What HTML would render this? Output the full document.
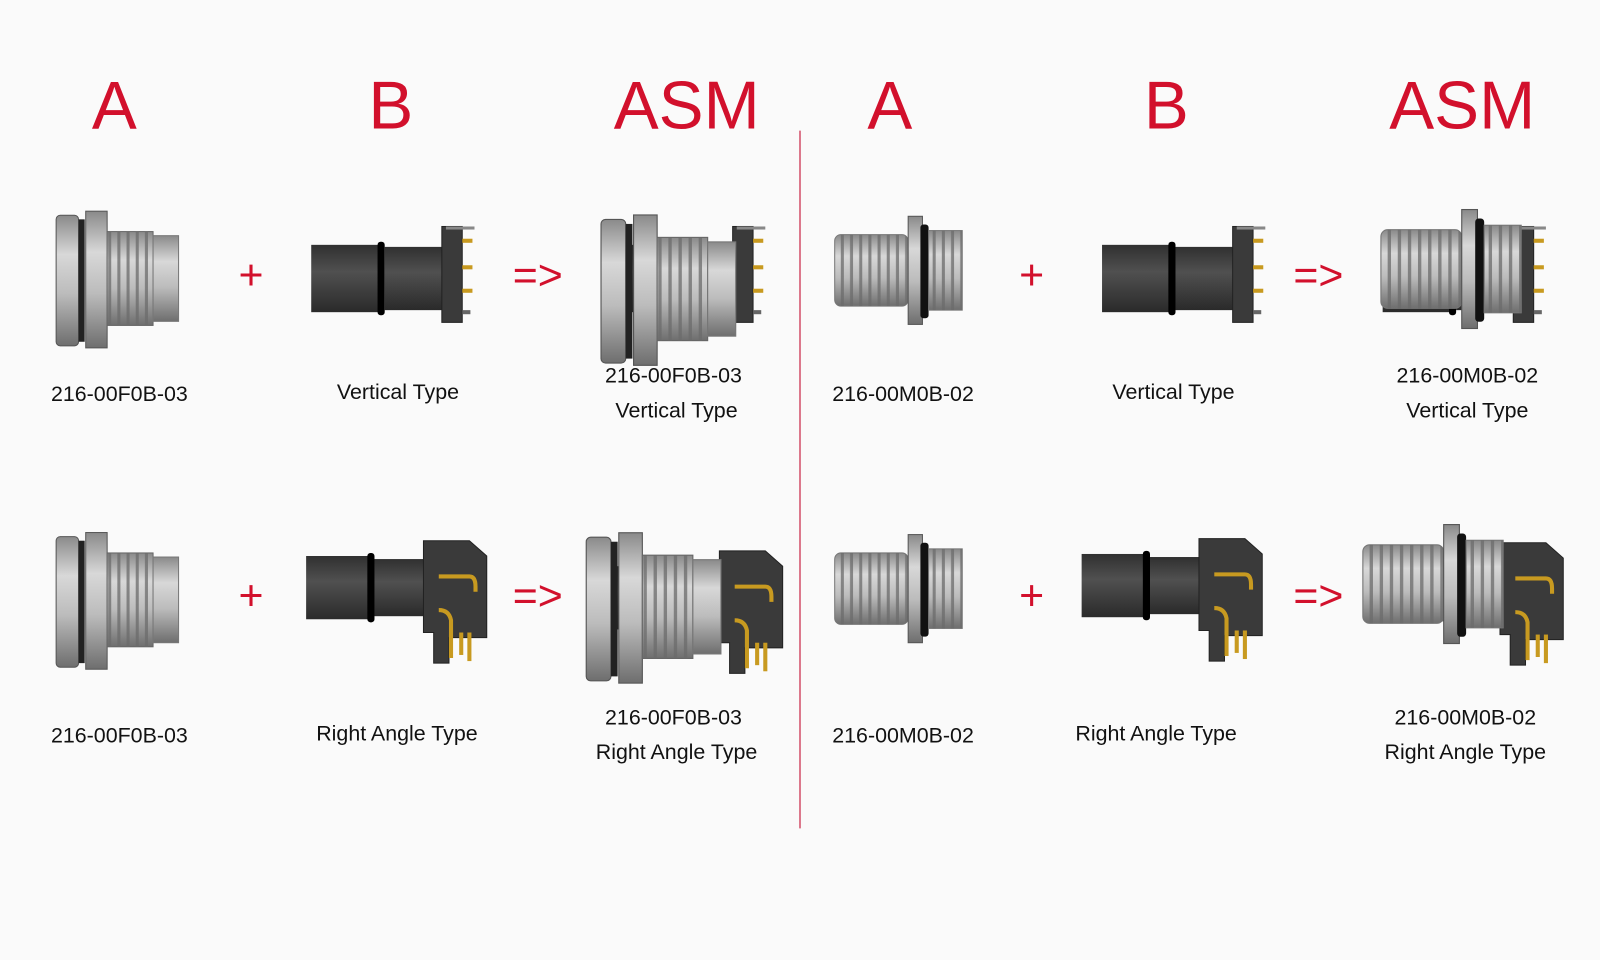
<!DOCTYPE html>
<html><head><meta charset="utf-8"><style>
html,body{margin:0;padding:0;background:#fafafa;}
svg{display:block}
.big{font-family:"Liberation Sans",sans-serif;fill:#d2102c;font-size:66px;text-anchor:middle}
.op{font-family:"Liberation Sans",sans-serif;fill:#d2102c;font-size:42px;text-anchor:middle}
.lb{font-family:"Liberation Sans",sans-serif;fill:#111;font-size:21px;text-anchor:middle}
</style></head><body>
<svg width="1600" height="960" viewBox="0 0 1568 941" preserveAspectRatio="none" xmlns="http://www.w3.org/2000/svg">
<defs>
<linearGradient id="mg" x1="0" y1="0" x2="0" y2="1">
<stop offset="0" stop-color="#8a8a8a"/><stop offset="0.3" stop-color="#d8d8d8"/><stop offset="0.6" stop-color="#bcbcbc"/><stop offset="1" stop-color="#6e6e6e"/></linearGradient>
<linearGradient id="dg" x1="0" y1="0" x2="0" y2="1">
<stop offset="0" stop-color="#303030"/><stop offset="0.4" stop-color="#505050"/><stop offset="1" stop-color="#2a2a2a"/></linearGradient>
<pattern id="thr" width="9" height="10" patternUnits="userSpaceOnUse">
<rect x="6" width="3" height="10" fill="#6a6a6a" fill-opacity="0.75"/></pattern>
<g id="fa">
<rect x="0" y="4" width="22" height="128" rx="4" fill="url(#mg)" stroke="#555"/>
<rect x="22" y="8" width="6" height="120" fill="#222"/>
<rect x="29" y="0" width="21" height="134" fill="url(#mg)" stroke="#555"/>
<rect x="50" y="20" width="45" height="92" fill="url(#mg)" stroke="#666"/>
<rect x="50" y="20" width="45" height="92" fill="url(#thr)"/>
<rect x="95" y="24" width="25" height="84" fill="url(#mg)" stroke="#777"/>
</g>
<g id="ma">
<rect x="0" y="18" width="72" height="70" rx="6" fill="url(#mg)" stroke="#777"/>
<rect x="0" y="18" width="72" height="70" rx="6" fill="url(#thr)"/>
<rect x="72" y="0" width="14" height="106" fill="url(#mg)" stroke="#555"/>
<rect x="84" y="8" width="8" height="92" rx="3" fill="#111"/>
<rect x="92" y="14" width="33" height="78" fill="url(#mg)" stroke="#777"/>
<rect x="92" y="14" width="33" height="78" fill="url(#thr)"/>
</g>
<g id="bv">
<rect x="0" y="18" width="67" height="66" fill="url(#dg)"/>
<rect x="65" y="15" width="7" height="72" rx="3" fill="#000"/>
<rect x="72" y="20" width="56" height="62" fill="url(#dg)"/>
<rect x="128" y="0" width="20" height="94" fill="#3a3a3a" stroke="#222"/>
<rect x="132" y="0" width="28" height="3" fill="#888"/>
<rect x="148" y="12" width="10" height="4" fill="#c89a20"/>
<rect x="148" y="38" width="10" height="4" fill="#c89a20"/>
<rect x="148" y="61" width="10" height="4" fill="#c89a20"/>
<rect x="148" y="82" width="8" height="4" fill="#666"/>
</g>
<g id="br">
<rect x="0" y="15" width="62" height="62" fill="url(#dg)"/>
<rect x="60" y="12" width="7" height="68" rx="3" fill="#000"/>
<rect x="67" y="18" width="50" height="56" fill="url(#dg)"/>
<path d="M115 0 H160 L177 15 V95 H140 V120 H125 V90 H115 Z" fill="#3a3a3a" stroke="#222"/>
<path d="M130 35 H160 Q166 35 166 45 V50" stroke="#c89a20" stroke-width="4" fill="none"/>
<path d="M130 68 Q140 68 142 78 V115" stroke="#c89a20" stroke-width="4" fill="none"/>
<rect x="158" y="90" width="4" height="28" fill="#c89a20"/>
<rect x="150" y="90" width="4" height="22" fill="#c89a20"/>
</g>
</defs>
<text class="big" x="112" y="126">A</text>
<text class="big" x="383" y="126">B</text>
<text class="big" x="673" y="126">ASM</text>
<text class="big" x="872" y="126">A</text>
<text class="big" x="1143" y="126">B</text>
<text class="big" x="1433" y="126">ASM</text>
<line x1="784" y1="128" x2="784" y2="812" stroke="#d2506a" stroke-width="1.5"/>

<text class="op" x="246" y="284">+</text><text class="op" x="527" y="284">=&gt;</text>
<text class="op" x="246" y="598">+</text><text class="op" x="527" y="598">=&gt;</text>
<text class="op" x="1011" y="284">+</text><text class="op" x="1292" y="284">=&gt;</text>
<text class="op" x="1011" y="598">+</text><text class="op" x="1292" y="598">=&gt;</text>

<use href="#fa" x="55" y="207"/>
<use href="#bv" x="305" y="222"/>
<use href="#bv" x="590" y="222"/>
<use href="#fa" x="590" y="207" transform="translate(-60,-17) scale(1.1)"/>
<use href="#fa" x="55" y="522"/>
<use href="#br" x="300" y="530"/>
<use href="#br" x="590" y="540"/>
<use href="#fa" x="575" y="522" transform="translate(-58,-52) scale(1.1)"/>

<use href="#ma" x="818" y="212"/>
<use href="#bv" x="1080" y="222"/>
<use href="#bv" x="1355" y="222"/>
<use href="#ma" x="1353" y="214" transform="translate(-135,-30) scale(1.1)"/>
<use href="#ma" x="818" y="524"/>
<use href="#br" x="1060" y="528"/>
<use href="#br" x="1355" y="532"/>
<use href="#ma" x="1336" y="522" transform="translate(-134,-60) scale(1.1)"/>

<text class="lb" x="117" y="393">216-00F0B-03</text>
<text class="lb" x="390" y="391">Vertical Type</text>
<text class="lb" x="660" y="375">216-00F0B-03</text>
<text class="lb" x="663" y="409">Vertical Type</text>
<text class="lb" x="117" y="728">216-00F0B-03</text>
<text class="lb" x="389" y="726">Right Angle Type</text>
<text class="lb" x="660" y="710">216-00F0B-03</text>
<text class="lb" x="663" y="744">Right Angle Type</text>
<text class="lb" x="885" y="393">216-00M0B-02</text>
<text class="lb" x="1150" y="391">Vertical Type</text>
<text class="lb" x="1438" y="375">216-00M0B-02</text>
<text class="lb" x="1438" y="409">Vertical Type</text>
<text class="lb" x="885" y="728">216-00M0B-02</text>
<text class="lb" x="1133" y="726">Right Angle Type</text>
<text class="lb" x="1436" y="710">216-00M0B-02</text>
<text class="lb" x="1436" y="744">Right Angle Type</text>
</svg>
</body></html>
